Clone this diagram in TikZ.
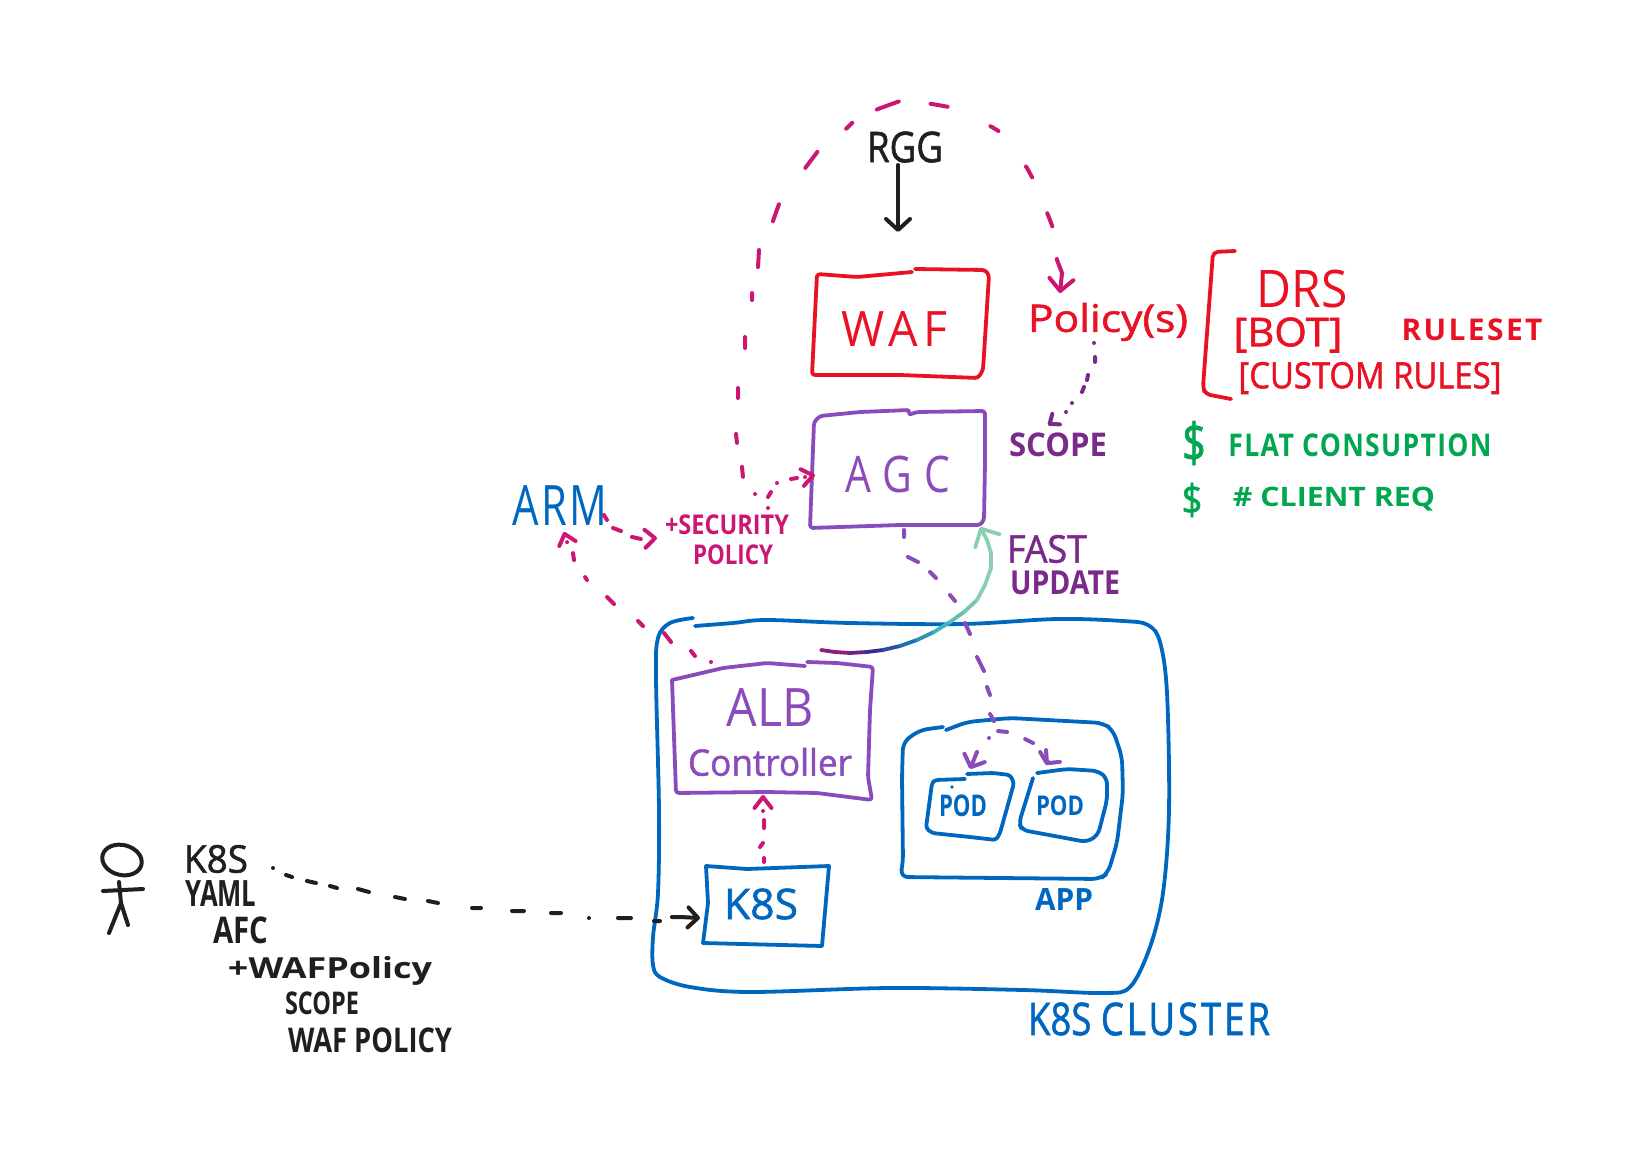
\documentclass[tikz,border=0pt]{standalone}
\usepackage{graphicx}
\usepackage{fontspec}
\setmainfont{Open Sans}
\newfontfamily\med[FakeBold=1.4]{Open Sans}
\usetikzlibrary{arrows.meta}
\definecolor{inkblack}{HTML}{1F1F1F}
\definecolor{inkred}{HTML}{E81224}
\definecolor{inkpurple}{HTML}{8A4CBB}
\definecolor{inkplum}{HTML}{7A2A8A}
\definecolor{inkblue}{HTML}{0067C0}
\definecolor{inkpink}{HTML}{CC1674}
\definecolor{inkgreen}{HTML}{00A650}
\definecolor{gradP}{HTML}{8A1F7F}
\definecolor{gradI}{HTML}{3C2C8C}
\definecolor{gradB}{HTML}{1C6FB8}
\definecolor{gradT}{HTML}{3FB5BE}
\definecolor{gradG}{HTML}{8CCFB0}
% label: name, colour, centre x, centre y, width, height, text
\newcommand{\hand}[7]{\node[inner sep=0pt,text=#2] (#1) at (#3,#4) {\resizebox*{#5pt}{#6pt}{#7}};}
\newcommand{\spc}[2]{{\addfontfeature{LetterSpace=#1}#2}}
\tikzset{
  pen/.style={line width=3.8pt,line cap=round,line join=round},
  penbox/.style={pen,rounded corners=3pt},
  penbig/.style={pen,rounded corners=8pt},
  dashpen/.style={line width=4pt,line cap=round,line join=round},
  barb/.style 2 args={-{Straight Barb[round,length=#1pt,width=#2pt]}}
}
\begin{document}
\begin{tikzpicture}[x=1pt,y=-1pt]
\useasboundingbox (0,0) rectangle (1644,1153);

% ---------- named connector ends
\coordinate (arcStart) at (755,494);
\coordinate (policyIn) at (1060,293);
\coordinate (rggOut) at (898,165);
\coordinate (wafIn) at (898,232);
\coordinate (policyOut) at (1094,343);
\coordinate (scopeIn) at (1048,425);
\coordinate (secOut) at (768,508);
\coordinate (agcW) at (815,475);
\coordinate (armOut) at (604,515);
\coordinate (secIn) at (657,538);
\coordinate (albOut) at (711,662);
\coordinate (armIn) at (564,532);
\coordinate (k8sN) at (764,862);
\coordinate (albS) at (763,795);
\coordinate (agcS) at (904,530);
\coordinate (branch) at (994,721);
\coordinate (podA) at (970,769);
\coordinate (podB) at (1046,765);
\coordinate (k8sOut) at (273,868);
\coordinate (k8sW) at (700,918);
\coordinate (albE) at (821,650);
\coordinate (agcCorner) at (980,527);

% ---------- boxes
\draw[penbox,inkred] (912,272) -- (857,277) -- (817,274) -- (812,375) -- (900,375) -- (978,378) -- (983,370) -- (989,275) -- (985,270) -- (915,269);
\draw[penbox,inkpurple] (910,410) -- (860,412) -- (820,416) -- (814,422) -- (810,528) -- (900,525) -- (980,525) -- (984,520) -- (985,463) -- (985,411) -- (917,412) -- (908,415) -- cycle;
\draw[pen,inkblue] plot[smooth,tension=0.55] coordinates {(695,626) (733,623) (767,620) (850,623) (963,624) (1057,619) (1123,621) (1148,625) (1160,642) (1167,693) (1169,810) (1163,893) (1150,947) (1130,987) (1103,993) (1023,990) (890,988) (750,992) (690,987) (660,977) (653,965) (653,937) (658,893) (659,810) (656,677) (658,638) (670,623) (693,618)};
\draw[penbox,inkpurple] (672,680) -- (676,793) -- (767,792) -- (817,793) -- (872,800) -- (868,777) -- (870,710) -- (873,667) -- (837,663) -- (807,662);
\draw[penbox,inkpurple] (805,666) -- (767,663) -- (723,668) -- (672,680);
\draw[pen,inkblue] (706,866) -- (747,869) -- (829,866) -- (822,946) -- (703,943) -- (708,903) -- cycle;
\draw[penbig,inkblue] (946,730) -- (967,722) -- (1010,718) -- (1103,723) -- (1113,730) -- (1122,757) -- (1123,793) -- (1117,843) -- (1108,873) -- (1100,879) -- (900,877) -- (903,863) -- (902,777) -- (903,742) -- (920,730) -- (943,727);
\draw[penbox,inkblue] (965,779) -- (935,780) -- (932,783) -- (926,828) -- (932,833) -- (970,837) -- (996,840) -- (1000,833) -- (1014,783) -- (1010,775) -- (993,773) -- (967,774);
\fill[inkblue] (952,787) circle (1.8pt);
\draw[pen,inkblue,rounded corners=6pt] (1033,778) -- (1019,823) -- (1022,830) -- (1087,842) -- (1098,835) -- (1107,800) -- (1107,778) -- (1098,771) -- (1067,769) -- (1037,773);
% bracket
\draw[penbox,inkred,rounded corners=5pt] (1235,251) -- (1213,252) -- (1203,387) -- (1205,394) -- (1231,399);
% person
\draw[pen,inkblack,line width=4pt] (122,860) ellipse [x radius=20pt,y radius=15pt,rotate=-14];
\draw[pen,inkblack,line width=4pt] (119,882) -- (121,903) (103,891) -- (143,889) (121,903) -- (109,933) (121,903) -- (128,925);

% ---------- labels
\hand{rgg}{inkblack}{905}{147}{76}{31}{\med RGG}
\hand{waf}{inkred}{895}{329}{106}{35}{\spc{12}{WAF}}
\hand{policy}{inkred}{1108}{322}{160}{38}{\med Policy(s)}
\hand{agc}{inkpurple}{898}{474}{105}{37}{\spc{30}{AGC}}
\hand{scope}{inkplum}{1058}{445}{98}{24}{\bfseries SCOPE}
\hand{drs}{inkred}{1302}{289}{91}{38}{DRS}
\hand{bot}{inkred}{1288}{335}{109}{35}{\med [BOT]}
\hand{ruleset}{inkred}{1472}{330}{141}{22}{\bfseries\spc{8}{RULESET}}
\hand{custom}{inkred}{1370}{378}{263}{32}{\med [CUSTOM RULES]}
\hand{dollarA}{inkgreen}{1194}{443}{24}{44}{\med\$}
\hand{dollarB}{inkgreen}{1192}{500}{21}{34}{\med\$}
\hand{flat}{inkgreen}{1360}{445}{263}{23}{\bfseries\spc{5}{FLAT CONSUPTION}}
\hand{client}{inkgreen}{1334}{499}{202}{24}{\bfseries\# CLIENT REQ}
\hand{arm}{inkblue}{560}{505}{95}{40}{\spc{6}{ARM}}
\hand{security}{inkpink}{727}{525}{124}{20}{\bfseries +SECURITY}
\hand{secpolicy}{inkpink}{733}{555}{80}{20}{\bfseries POLICY}
\hand{fast}{inkplum}{1047}{549}{80}{28}{\med FAST}
\hand{update}{inkplum}{1065}{583}{110}{24}{\bfseries UPDATE}
\hand{alb}{inkpurple}{770}{707}{87}{38}{ALB}
\hand{controller}{inkpurple}{770}{762}{164}{28}{\med Controller}
\hand{k8sbox}{inkblue}{761}{904}{74}{31}{\med K8S}
\hand{podL}{inkblue}{963}{806}{48}{22}{\bfseries POD}
\hand{podR}{inkblue}{1060}{806}{48}{20}{\bfseries POD}
\hand{app}{inkblue}{1064}{899}{58}{22}{\bfseries APP}
\hand{cluster}{inkblue}{1149}{1019}{242}{33}{\med K8S \spc{8}{CLUSTER}}
\hand{k8stext}{inkblack}{216}{859}{64}{28}{\med K8S}
\hand{yaml}{inkblack}{221}{893}{71}{26}{\bfseries YAML}
\hand{afc}{inkblack}{241}{930}{55}{27}{\bfseries AFC}
\hand{wafpolicy}{inkblack}{330}{971}{204}{29}{\bfseries +WAFPolicy}
\hand{scopeb}{inkblack}{322}{1003}{74}{23}{\bfseries SCOPE}
\hand{wafpolb}{inkblack}{370}{1040}{164}{25}{\bfseries WAF POLICY}

% ---------- connectors (each path runs through the ends of its dashes)
\draw[pen,inkblack,line width=4pt,barb={11}{24}] (rggOut) -- (wafIn);
\draw[dashpen,inkpink,barb={12}{24},
  dash pattern=on 0pt off 21pt on 10pt off 24.5pt on 9pt off 36pt on 10pt off 40.6pt on 11pt off 37.6pt on 7pt off 26.7pt on 17pt off 32pt on 18pt off 45pt on 20pt off 37pt on 8.5pt off 28pt on 23.4pt off 32pt on 17.3pt off 47pt on 9.4pt off 45pt on 12.5pt off 39pt on 14pt off 33pt on 40pt]
  (arcStart) -- (743,477) -- (742,467) -- (737,443) -- (736,434) -- (738,398) -- (738,388) -- (745,348) -- (745,337) -- (752,300) -- (752,293) -- (758,267) -- (759,250) -- (773,221) -- (779,204) -- (806,167) -- (818,151) -- (847,128) -- (853,122) -- (878,109) -- (900,101) -- (932,104) -- (949,107) -- (992,127) -- (1000,132) -- (1027,168) -- (1033,179) -- (1048,215) -- (1053,228) -- (1057,260) -- (1062,273) -- (policyIn);
\draw[dashpen,inkplum,barb={8}{13},
  dash pattern=on 0pt off 14pt on 5pt off 14.8pt on 5.1pt off 7.6pt on 5.4pt off 14.9pt on 0pt off 10.8pt on 0pt off 30pt]
  (policyOut) -- (1095,357) -- (1095,362) -- (1088,375) -- (1087,380) -- (1084,387) -- (1082,392) -- (1072,403) -- (1066,412) -- (scopeIn);
\draw[dashpen,inkpink,barb={11}{17},
  dash pattern=on 0pt off 11pt on 5.8pt off 10.8pt on 0pt off 14.6pt on 6.1pt off 8.1pt on 0pt off 30pt]
  (secOut) -- (768,497) -- (771,492) -- (777,483) -- (791,479) -- (797,478) -- (805,477) -- (agcW);
\draw[dashpen,inkpink,barb={10}{18},
  dash pattern=on 5.8pt off 10pt on 8.5pt off 12.5pt on 9.2pt off 30pt]
  (armOut) -- (607,520) -- (613,528) -- (621,531) -- (632,537) -- (641,539) -- (secIn);
\draw[dashpen,inkpink,barb={10}{17},
  dash pattern=on 0pt off 17.1pt on 6.4pt off 21.9pt on 11.4pt off 22.1pt on 7.1pt off 29.4pt on 9.9pt off 26.2pt on 3.6pt off 20.2pt on 7.1pt off 12.5pt on 0pt off 30pt]
  (albOut) -- (695,656) -- (691,651) -- (671,642) -- (664,633) -- (643,626) -- (638,621) -- (614,604) -- (607,597) -- (587,580) -- (585,577) -- (574,560) -- (573,553) -- (567,542) -- (armIn);
\draw[dashpen,inkpink,barb={11}{17},
  dash pattern=on 4pt off 11.7pt on 5pt off 15pt on 8pt off 9.1pt on 0pt off 30pt]
  (k8sN) -- (764,858) -- (760,847) -- (763,843) -- (764,828) -- (764,820) -- (763,811) -- (albS);
\draw[dashpen,inkpurple,barb={7}{22},
  dash pattern=on 7pt off 20.4pt on 11.2pt off 15.6pt on 8.5pt off 22pt on 7.8pt off 24.2pt on 12.1pt off 24pt on 15.7pt off 16.3pt on 8.5pt off 19pt on 8.1pt off 10.8pt on 9.1pt off 19.3pt on 8.9pt off 14.8pt on 30pt]
  (agcS) -- (904,537) -- (908,557) -- (918,562) -- (930,572) -- (936,578) -- (950,595) -- (955,601) -- (965,623) -- (970,634) -- (977,657) -- (984,671) -- (987,687) -- (990,695) -- (990,714) -- (branch) -- (998,731) -- (1007,732) -- (1025,739) -- (1033,743) -- (1046,750) -- (1047,763) -- (podB);
\draw[dashpen,inkpurple,barb={10}{22},
  dash pattern=on 0pt off 17.7pt on 0pt off 18.4pt on 30pt]
  (branch) -- (989,738) -- (977,752) -- (podA);
\draw[dashpen,inkblack,barb={10}{20},
  dash pattern=on 0pt off 14.8pt on 6.3pt off 15.5pt on 9.2pt off 14.3pt on 7.3pt off 21pt on 11.4pt off 26.5pt on 10.2pt off 23.1pt on 10.2pt off 34.4pt on 9pt off 31.1pt on 12pt off 27.1pt on 10pt off 28.4pt on 0pt off 29pt on 13pt off 23.2pt on 6pt off 12.6pt on 30pt]
  (k8sOut) -- (286,875) -- (292,877) -- (307,881) -- (316,883) -- (330,886) -- (337,888) -- (358,889) -- (369,892) -- (395,897) -- (405,899) -- (428,901) -- (438,903) -- (472,908) -- (481,908) -- (512,911) -- (524,911) -- (551,913) -- (561,913) -- (589,918) -- (618,918) -- (631,918) -- (654,921) -- (660,921) -- (672,917) -- (680,917) -- (k8sW);

% fast-update arrow: a colour gradient along the stroke
\coordinate (gA) at (835,652); \coordinate (gB) at (850,653); \coordinate (gC) at (867,652);
\coordinate (gD) at (883,650); \coordinate (gE) at (900,646); \coordinate (gF) at (917,640);
\coordinate (gG) at (934,632); \coordinate (gH) at (950,622); \coordinate (gI) at (964,612);
\coordinate (gJ) at (977,600); \coordinate (gK) at (985,585); \coordinate (gL) at (991,568);
\coordinate (gM) at (991,553); \coordinate (gN) at (987,540);
\foreach \p/\q/\c in {albE/gA/gradP,gA/gB/gradP,gB/gC/gradP!60!gradI,gC/gD/gradI,gD/gE/gradI!50!gradB,gE/gF/gradB,gF/gG/gradB!50!gradT,gG/gH/gradT,gH/gI/gradT!60!gradG,gI/gJ/gradT!30!gradG,gJ/gK/gradG,gK/gL/gradG,gL/gM/gradG,gM/gN/gradG}
  \draw[pen,draw=\c] (\p) -- (\q);
\draw[pen,gradG,barb={14}{28}] (gN) -- (agcCorner);
\end{tikzpicture}
\end{document}
